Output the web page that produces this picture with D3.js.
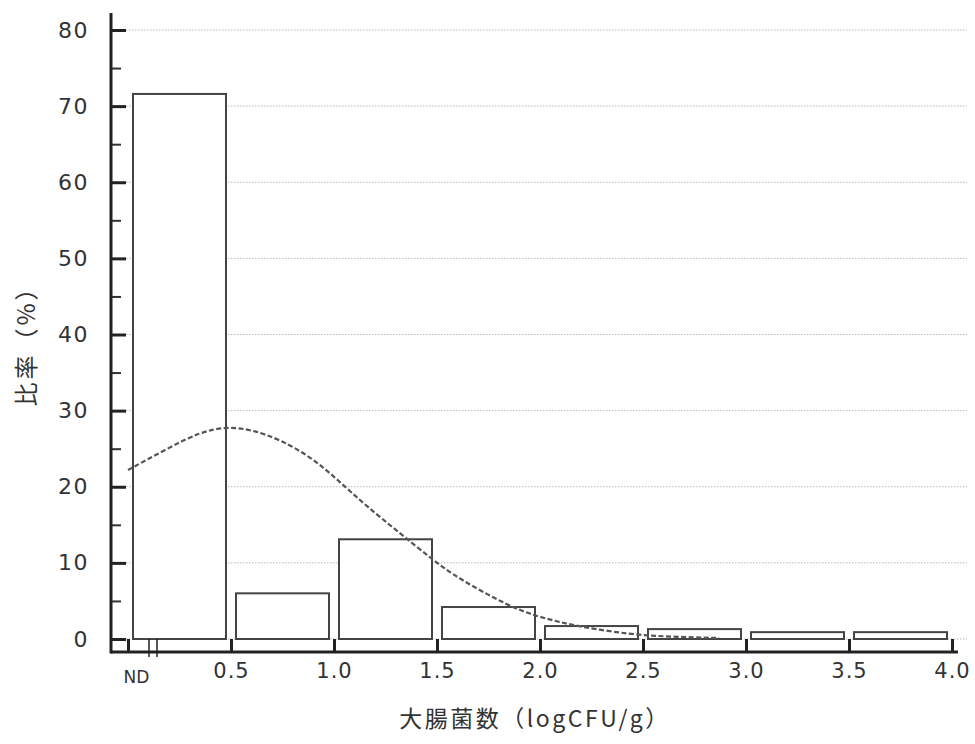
<!DOCTYPE html>
<html><head><meta charset="utf-8">
<script src="https://cdn.jsdelivr.net/npm/d3@7"></script>
<style>
html,body{margin:0;padding:0;background:#fff;}
svg{display:block;}
</style></head>
<body>
<svg id="chart" width="975" height="744"></svg>
<script>
// ---- data ----
const binStarts = [0, 0.5, 1.0, 1.5, 2.0, 2.5, 3.0, 3.5];
const binWidth = 0.5;
const percentages = [71.6, 6.0, 13.1, 4.2, 1.7, 1.3, 0.9, 0.9];
const xTickValues = [0, 0.5, 1.0, 1.5, 2.0, 2.5, 3.0, 3.5, 4.0];
const xTickLabels = ["ND", "0.5", "1.0", "1.5", "2.0", "2.5", "3.0", "3.5", "4.0"];
const yMajorTicks = [0, 10, 20, 30, 40, 50, 60, 70, 80];
const yMinorTicks = [5, 15, 25, 35, 45, 55, 65, 75];
const curveX = [0.0, 0.19, 0.35, 0.48, 0.60, 0.74, 0.90, 1.03, 1.16, 1.32, 1.48, 1.60, 1.85, 1.99, 2.19, 2.44, 2.62, 2.87];
const curveY = [22.2, 25.0, 27.2, 27.9, 27.5, 26.2, 23.7, 20.6, 17.4, 13.9, 10.4, 8.0, 4.3, 2.9, 1.6, 0.6, 0.3, 0.13];
const xTitle = "大腸菌数（logCFU/g）";
const yTitle = "比率（%）";

// ---- layout ----
const svg = d3.select("#chart");
const x = d3.scaleLinear().domain([0, 4]).range([128, 952]);
const y = d3.scaleLinear().domain([0, 80]).range([639, 30]);
const axisX = 111, axisY = 652;
const latin = "'DejaVu Sans', 'Liberation Sans', sans-serif";
const cjk = "'Noto Sans CJK JP', 'Noto Sans', sans-serif";

// gridlines
svg.append("g").selectAll("line").data(yMajorTicks).join("line")
  .attr("x1", 126).attr("x2", 967)
  .attr("y1", d => y(d)).attr("y2", d => y(d))
  .attr("stroke", "#b8b8b8").attr("stroke-width", 1)
  .attr("stroke-dasharray", "1.5,1.5");

// bars
svg.append("g").selectAll("rect").data(binStarts).join("rect")
  .attr("x", d => x(d) + 5)
  .attr("width", d => x(d + binWidth) - x(d) - 10)
  .attr("y", (d, i) => y(percentages[i]))
  .attr("height", (d, i) => y(0) - y(percentages[i]))
  .attr("fill", "#fff")
  .attr("stroke", "#444").attr("stroke-width", 2);

// fitted curve
const pts = curveX.map((v, i) => [v, curveY[i]]);
svg.append("path")
  .attr("d", d3.line().x(d => x(d[0])).y(d => y(d[1])).curve(d3.curveBasis)(pts))
  .attr("fill", "none").attr("stroke", "#555").attr("stroke-width", 2.2)
  .attr("stroke-dasharray", "5,2.5");

// y axis major
const yAx = svg.append("g").attr("transform", `translate(${axisX},0)`)
  .call(d3.axisLeft(y).tickValues(yMajorTicks).tickSize(-15).tickPadding(22).tickFormat(d3.format("d")));
yAx.select(".domain").remove();
yAx.selectAll(".tick line").attr("stroke", "#222").attr("stroke-width", 3);
yAx.selectAll(".tick text").attr("font-family", latin).attr("font-size", 22)
  .attr("fill", "#333").attr("letter-spacing", 1.5);

// y axis minor
const yMin = svg.append("g").attr("transform", `translate(${axisX},0)`)
  .call(d3.axisLeft(y).tickValues(yMinorTicks).tickSize(-10).tickFormat(""));
yMin.select(".domain").remove();
yMin.selectAll(".tick line").attr("stroke", "#333").attr("stroke-width", 2);

// x axis
const xAx = svg.append("g").attr("transform", `translate(0,${axisY})`)
  .call(d3.axisBottom(x).tickValues(xTickValues).tickSize(-13).tickPadding(11)
    .tickFormat((d, i) => xTickLabels[i]));
xAx.select(".domain").remove();
xAx.selectAll(".tick line").attr("stroke", "#222").attr("stroke-width", 3);
xAx.selectAll(".tick text").attr("font-family", latin).attr("font-size", 21)
  .attr("fill", "#333").attr("letter-spacing", 1);
xAx.selectAll(".tick text").filter((d, i) => i === 0)
  .attr("font-size", 17).attr("letter-spacing", 0)
  .attr("dx", 8).attr("y", 19);

// axis lines
svg.append("line").attr("x1", axisX).attr("x2", axisX).attr("y1", 13).attr("y2", axisY + 1.5)
  .attr("stroke", "#222").attr("stroke-width", 3);
svg.append("line").attr("x1", axisX).attr("x2", 958).attr("y1", axisY).attr("y2", axisY)
  .attr("stroke", "#222").attr("stroke-width", 3);

// axis break marks
svg.append("g").selectAll("line").data([149, 157]).join("line")
  .attr("x1", d => d).attr("x2", d => d).attr("y1", 639).attr("y2", 657)
  .attr("stroke", "#222").attr("stroke-width", 1.5);

// titles
svg.append("text").attr("x", 535).attr("y", 727).attr("text-anchor", "middle")
  .attr("font-family", cjk).attr("font-size", 23).attr("fill", "#333")
  .attr("letter-spacing", 2.5).text(xTitle);
svg.append("text").attr("transform", "translate(35,340) rotate(-90)").attr("text-anchor", "middle")
  .attr("font-family", cjk).attr("font-size", 24).attr("fill", "#333")
  .attr("letter-spacing", 3).text(yTitle);
</script>
</body></html>
